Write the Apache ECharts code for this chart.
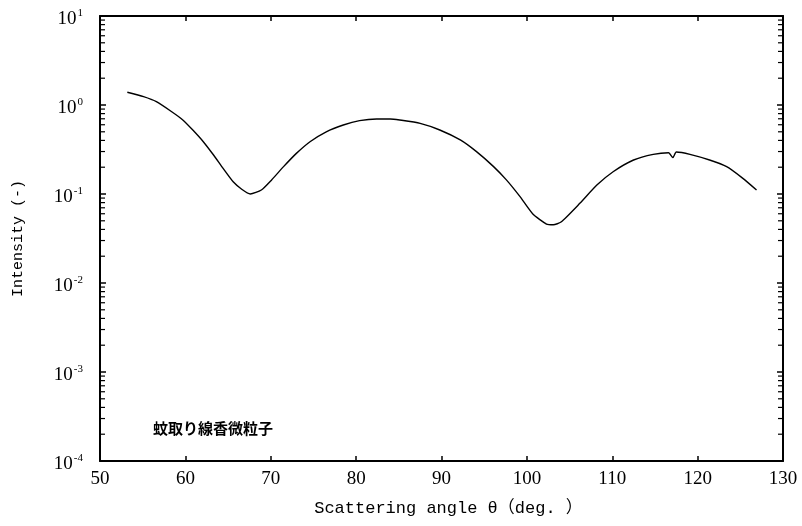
<!DOCTYPE html>
<html>
<head>
<meta charset="utf-8">
<script src="https://cdn.jsdelivr.net/npm/echarts@6/dist/echarts.min.js"></script>
<style>html,body{margin:0;padding:0;background:#fff;}#c{width:802px;height:526px;}</style>
</head>
<body>
<div id="c"></div>
<script>
var angles = [53.2,55.1,56.6,58.4,59.7,60.9,62.1,63.3,64.4,65.6,66.6,67.6,68.9,70.1,71.5,73.0,74.6,76.5,78.5,80.4,82.4,84.0,85.1,87.5,89.8,92.2,94.1,96.1,97.6,99.2,100.7,102.3,103.1,104.0,106.2,108.2,110.1,112.5,114.8,116.6,117.1,117.5,119.1,121.4,123.4,125.3,126.9];
var intensity = [1.39,1.24,1.09,0.84,0.68,0.52,0.387,0.274,0.195,0.137,0.113,0.100,0.111,0.144,0.203,0.286,0.387,0.50,0.596,0.667,0.697,0.697,0.678,0.622,0.524,0.405,0.299,0.203,0.144,0.0933,0.0596,0.0460,0.0452,0.0484,0.0785,0.126,0.178,0.241,0.279,0.291,0.256,0.296,0.279,0.241,0.203,0.150,0.111];
var xTicks = [50,60,70,80,90,100,110,120,130];
var yDecades = [-4,-3,-2,-1,0,1];
var minorMultipliers = [2,3,4,5,6,7,8,9];
var annotation = '蚊取り線香微粒子';
var xTitle = 'Scattering angle θ（deg. ）';
var yTitle = 'Intensity (-)';

var lineData = angles.map(function(a,i){return [a,intensity[i]];});
var minorData = [];
for (var d = 0; d < yDecades.length - 1; d++) {
  minorMultipliers.forEach(function(m){ minorData.push([xTicks[0], m*Math.pow(10, yDecades[d])]); });
}

var serif = '"Liberation Serif","DejaVu Serif",serif';
var mono = '"Liberation Mono","Noto Sans CJK JP",monospace';

var chart = echarts.init(document.getElementById('c'));
var xBase = {
  type:'value', min:xTicks[0], max:xTicks[xTicks.length-1], interval:10,
  axisLine:{show:true, lineStyle:{color:'#000', width:2}},
  axisTick:{show:true, inside:true, length:5, lineStyle:{color:'#000', width:1.5}},
  splitLine:{show:false}
};
var yBase = {
  type:'log', logBase:10, min:Math.pow(10,yDecades[0]), max:Math.pow(10,yDecades[yDecades.length-1]), interval:1,
  axisLine:{show:true, lineStyle:{color:'#000', width:2}},
  axisTick:{show:true, inside:true, length:6, lineStyle:{color:'#000', width:1.5}},
  splitLine:{show:false}
};
chart.setOption({
  animation:false,
  backgroundColor:'#fff',
  grid:{left:100, right:19, top:16, bottom:65},
  xAxis:[
    Object.assign({}, xBase, {position:'bottom',
      axisLabel:{show:true, color:'#000', fontFamily:serif, fontSize:19, margin:9},
      name:xTitle, nameLocation:'middle', nameGap:39,
      nameTextStyle:{color:'#000', fontFamily:mono, fontSize:17, padding:[0,0,0,14]}}),
    Object.assign({}, xBase, {position:'top', axisLabel:{show:false}})
  ],
  yAxis:[
    Object.assign({}, yBase, {position:'left',
      axisLabel:{show:true, color:'#000', margin:17,
        formatter:function(v){var e=Math.round(Math.log(v)/Math.LN10);return '{b|10}{s|'+e+'}';},
        rich:{b:{fontFamily:serif, fontSize:19, color:'#000', padding:[6,0,0,0]}, s:{fontFamily:serif, fontSize:11, color:'#000', padding:[0,0,6,1]}}},
      name:yTitle, nameLocation:'middle', nameGap:74,
      nameTextStyle:{color:'#000', fontFamily:mono, fontSize:15}}),
    Object.assign({}, yBase, {position:'right', axisLabel:{show:false}})
  ],
  series:[
    {type:'line', data:lineData, showSymbol:false, smooth:0.2, xAxisIndex:0, yAxisIndex:0,
     lineStyle:{color:'#000', width:1.4}, z:5},
    {type:'custom', data:minorData, xAxisIndex:0, yAxisIndex:0, silent:true, clip:false,
     encode:{x:0, y:1},
     renderItem:function(params, api){
       var p = api.coord([api.value(0), api.value(1)]);
       var cs = params.coordSys;
       return {type:'group', children:[
         {type:'line', shape:{x1:cs.x, y1:p[1], x2:cs.x+5, y2:p[1]}, style:{stroke:'#000', lineWidth:1.2}},
         {type:'line', shape:{x1:cs.x+cs.width, y1:p[1], x2:cs.x+cs.width-5, y2:p[1]}, style:{stroke:'#000', lineWidth:1.2}}
       ]};
     }}
  ],
  graphic:[
    {type:'text', left:153, top:421, style:{text:annotation, fill:'#000', font:'bold 15px "Noto Sans CJK JP"'}}
  ]
});
</script>
</body>
</html>
